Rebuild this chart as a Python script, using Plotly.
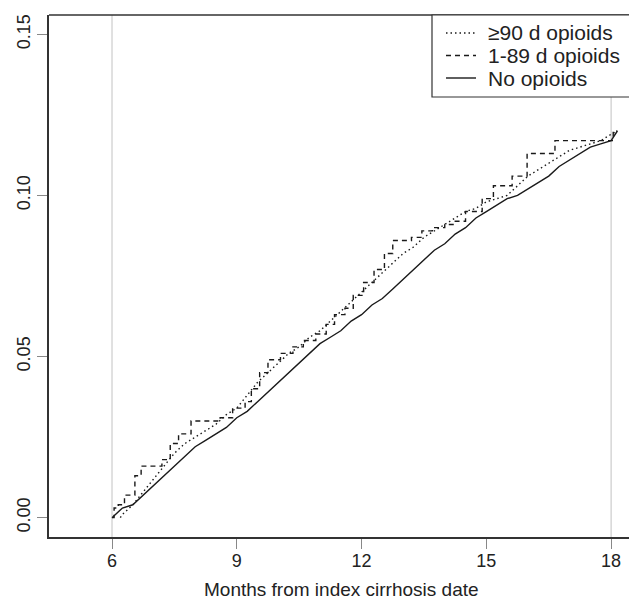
import plotly.graph_objects as go

# ---- data (cumulative incidence) ----
no_months = [6.00, 6.25, 6.50, 6.75, 7.00, 7.25, 7.50, 7.75, 8.00, 8.25, 8.50, 8.75,
             9.00, 9.25, 9.50, 9.75, 10.00, 10.25, 10.50, 10.75, 11.00, 11.25, 11.50,
             11.75, 12.00, 12.25, 12.50, 12.75, 13.00, 13.25, 13.50, 13.75, 14.00,
             14.25, 14.50, 14.75, 15.00, 15.25, 15.50, 15.75, 16.00, 16.25, 16.50,
             16.75, 17.00, 17.25, 17.50, 17.75, 18.00, 18.15]
no_vals = [0.000, 0.003, 0.004, 0.007, 0.010, 0.013, 0.016, 0.019, 0.022, 0.024, 0.026, 0.028,
           0.031, 0.033, 0.036, 0.039, 0.042, 0.045, 0.048, 0.051, 0.054, 0.056, 0.058,
           0.061, 0.063, 0.066, 0.068, 0.071, 0.074, 0.077, 0.080, 0.083, 0.085,
           0.088, 0.090, 0.093, 0.095, 0.097, 0.099, 0.100, 0.102, 0.104, 0.106,
           0.109, 0.111, 0.113, 0.115, 0.116, 0.117, 0.120]

long_months = [6.20, 6.25, 6.50, 6.75, 7.00, 7.25, 7.50, 7.75, 8.00, 8.25, 8.50, 8.75,
               9.00, 9.25, 9.50, 9.75, 10.00, 10.25, 10.50, 10.75, 11.00, 11.25, 11.50,
               11.75, 12.00, 12.25, 12.50, 12.75, 13.00, 13.25, 13.50, 13.75, 14.00,
               14.25, 14.50, 14.75, 15.00, 15.25, 15.50, 15.75, 16.00, 16.25, 16.50,
               16.75, 17.00, 17.25, 17.50, 17.75, 18.00, 18.15]
long_vals = [0.000, 0.001, 0.004, 0.008, 0.012, 0.016, 0.020, 0.023, 0.025, 0.027, 0.029, 0.032,
             0.034, 0.038, 0.042, 0.045, 0.048, 0.051, 0.053, 0.056, 0.058, 0.061, 0.064,
             0.067, 0.070, 0.073, 0.076, 0.079, 0.082, 0.084, 0.087, 0.089, 0.091,
             0.093, 0.095, 0.096, 0.098, 0.099, 0.100, 0.103, 0.106, 0.108, 0.110,
             0.112, 0.114, 0.115, 0.116, 0.117, 0.119, 0.120]

short_months = [6.00, 6.05, 6.15, 6.30, 6.55, 6.70, 7.20, 7.40, 7.60, 7.90, 8.60, 8.90,
                9.20, 9.35, 9.55, 9.75, 10.05, 10.35, 10.60, 10.90, 11.15, 11.35, 11.60,
                11.80, 12.05, 12.30, 12.55, 12.75, 13.20, 13.45, 13.70, 14.00, 14.20,
                14.50, 14.90, 15.17, 15.62, 15.98, 16.65, 18.05, 18.15]
short_vals = [0.000, 0.003, 0.004, 0.007, 0.013, 0.016, 0.018, 0.023, 0.026, 0.030, 0.031, 0.034,
              0.036, 0.040, 0.045, 0.049, 0.051, 0.053, 0.055, 0.057, 0.060, 0.063, 0.065,
              0.069, 0.073, 0.077, 0.082, 0.086, 0.087, 0.089, 0.090, 0.091, 0.092,
              0.095, 0.099, 0.103, 0.106, 0.113, 0.117, 0.120, 0.120]

series_names = ["≥90 d opioids", "1-89 d opioids", "No opioids"]
series_dash = ["1.5px,3px", "5px,4px", "solid"]
x_ticks = [6, 9, 12, 15, 18]
y_ticks = [0.00, 0.05, 0.10, 0.15]
y_tick_text = ["0.00", "0.05", "0.10", "0.15"]
reference_months = [6, 18]
x_title = "Months from index cirrhosis date"

FONT = "Liberation Sans, Arial, sans-serif"
INK = "#1a1a1a"
TXT = "#222222"

W, H = 629, 603
L, R, T, B = 49, 0, 15, 66
PW, PH = W - L - R, H - T - B


def px_x(p):
    return (p - L) / PW


def px_y(p):
    return (H - B - p) / PH


fig = go.Figure()
series = [(long_months, long_vals, "linear"), (short_months, short_vals, "hv"),
          (no_months, no_vals, "linear")]
for (xs, ys, shp), nm, ds in zip(series, series_names, series_dash):
    fig.add_trace(go.Scatter(x=xs, y=ys, mode="lines", line_shape=shp, name=nm,
                             showlegend=False, hoverinfo="skip",
                             line=dict(color=INK, width=1.4, dash=ds)))

shapes = []
for m in reference_months:
    shapes.append(dict(type="line", xref="x", yref="paper", x0=m, x1=m, y0=0, y1=1,
                       line=dict(color="#cccccc", width=1.2), layer="below"))
# top border of the frame (the right side is cropped away in the reference)
shapes.append(dict(type="line", xref="paper", yref="paper", x0=0, x1=1.05, y0=1, y1=1,
                   line=dict(color="#333333", width=1.6)))

# legend box + entries
shapes.append(dict(type="rect", xref="paper", yref="paper", x0=px_x(432), x1=1.05,
                   y0=px_y(97), y1=1.0, line=dict(color="#333333", width=1.2),
                   fillcolor="white"))
annotations = []
rows = [33, 55.5, 78]
for nm, ds, ry in zip(series_names, series_dash, rows):
    shapes.append(dict(type="line", xref="paper", yref="paper", x0=px_x(446), x1=px_x(476),
                       y0=px_y(ry), y1=px_y(ry), line=dict(color=INK, width=1.4, dash=ds)))
    annotations.append(dict(xref="paper", yref="paper", x=px_x(486), y=px_y(ry),
                            xanchor="left", yanchor="middle", showarrow=False, text=nm,
                            font=dict(family=FONT, size=21, color=TXT)))

annotations.append(dict(xref="paper", yref="paper", x=px_x(341), y=px_y(589),
                        xanchor="center", yanchor="middle", showarrow=False, text=x_title,
                        borderpad=0, font=dict(family=FONT, size=19, color=TXT)))

fig.update_layout(
    width=W, height=H,
    margin=dict(l=L, r=R, t=T, b=B),
    paper_bgcolor="white", plot_bgcolor="white",
    font=dict(family=FONT, size=18, color=TXT),
    shapes=shapes, annotations=annotations,
    showlegend=False, hovermode=False,
    xaxis=dict(range=[4.485, 18.43], tickvals=x_ticks, ticktext=[str(v) for v in x_ticks],
               showgrid=False, zeroline=False, showline=True, linecolor="#333333",
               linewidth=1.6, ticks="outside", ticklen=10, tickcolor="#888888",
               tickwidth=1, tickfont=dict(size=18), ticklabeloverflow="allow",
               ticklabelstandoff=-3),
    yaxis=dict(range=[-0.006, 0.156], tickvals=y_ticks, ticktext=y_tick_text,
               showgrid=False, zeroline=False, showline=True, linecolor="#333333",
               linewidth=1.6, ticks="outside", ticklen=10, tickcolor="#888888",
               tickwidth=1, tickangle=-90, tickfont=dict(size=18)),
)

fig.write_html("out.html", config={"displayModeBar": False},
               post_script="document.body.style.margin='0';document.body.style.padding='0';")
